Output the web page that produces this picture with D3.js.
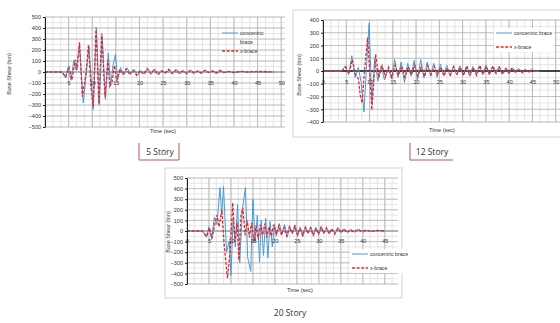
<!DOCTYPE html>
<html>
<head>
<meta charset="utf-8">
<script src="https://cdn.jsdelivr.net/npm/d3@7"></script>
<style>
  body { margin: 0; background: #fff; }
  svg { display: block; }
  text { font-family: "Liberation Sans", Arial, sans-serif; fill: #333; }
</style>
</head>
<body>
<svg id="chart" width="560" height="323"></svg>
<script>
// series names (legend)
const seriesNames = ['concentric brace', 'x-brace'];

// tick labels
const yTicks5 = [500, 400, 300, 200, 100, 0, -100, -200, -300, -400, -500];
const yTicks12 = [400, 300, 200, 100, 0, -100, -200, -300, -400];
const yTicks20 = [500, 400, 300, 200, 100, 0, -100, -200, -300, -400, -500];
const xTicks5 = [5, 10, 15, 20, 25, 30, 35, 40, 45, 50];
const xTicks12 = [0, 5, 10, 15, 20, 25, 30, 35, 40, 45, 50];
const xTicks20 = [0, 5, 10, 15, 20, 25, 30, 35, 40, 45];

// 5 story - time (sec) / base shear (ton)
const s5ConT = [0, 3.6, 4.3, 4.9, 5.5, 6.1, 6.6, 7.3, 8.1, 8.7, 9.3, 10.2, 10.9, 11.5, 12.1, 12.8, 13.4, 13.9, 14.4, 14.9,
  15.4, 16.0, 16.7, 17.4, 18.1, 18.9, 19.6, 20.3, 21.1, 21.8, 22.6, 23.3, 24.1, 24.8, 25.6, 26.3, 27.1, 27.9, 28.6, 29.4,
  30.1, 30.9, 31.7, 32.4, 33.2, 34.0, 34.8, 35.6, 36.4, 37.2, 38.0, 39.0, 40.0, 41.5, 43.0, 45.0, 48.0];
const s5ConV = [0, 0, -50, 45, -75, 105, 15, 255, -280, -30, 235, -340, 395, -300, 330, -250, 170, -120, 60, 160,
  -70, 40, -25, 35, -20, 25, -30, 15, -20, 30, -15, 25, -20, 15, -15, 25, -10, 20, -15, 10,
  -15, 15, -10, 10, -10, 15, -5, 10, -10, 10, -5, 5, -5, 5, 0, 0, 0];
const s5XbT = [0, 3.6, 4.4, 5.1, 5.7, 6.4, 6.8, 7.3, 7.9, 8.6, 9.2, 9.7, 10.2, 10.8, 11.4, 12.0, 12.7, 13.3, 13.7, 14.2,
  14.7, 15.2, 15.8, 16.5, 17.2, 17.9, 18.6, 19.4, 20.1, 20.9, 21.6, 22.4, 23.1, 23.9, 24.6, 25.4, 26.1, 26.9, 27.7, 28.4,
  29.2, 30.0, 30.7, 31.5, 32.3, 33.0, 33.8, 34.6, 35.4, 36.2, 37.0, 37.8, 38.8, 40.0, 41.5, 43.0, 45.0, 48.5];
const s5XbV = [0, 0, -45, 40, -70, 110, 20, 270, -225, -40, 245, -120, -315, 405, -290, 350, -230, 110, -130, -90,
  60, -80, 25, -20, 30, -25, 15, -30, 10, -20, 30, -15, 20, -25, 10, -10, 25, -15, 20, -10,
  10, -15, 15, -10, 10, -10, 15, -5, 10, -10, 15, -5, 5, -5, 5, 0, 5, 0];

// 12 story
const s12ConT = [0, 4.0, 4.8, 5.5, 6.2, 6.9, 7.6, 8.2, 8.8, 9.4, 9.9, 10.5, 11.1, 11.8, 12.5, 13.2, 14.0, 14.7, 15.4, 16.1,
  16.8, 17.5, 18.2, 18.9, 19.6, 20.3, 21.0, 21.7, 22.4, 23.1, 23.8, 24.5, 25.2, 25.9, 26.6, 27.3, 28.0, 28.7, 29.4, 30.1,
  30.8, 31.5, 32.2, 32.9, 33.6, 34.3, 35.0, 35.7, 36.4, 37.1, 37.8, 38.5, 39.2, 39.9, 40.6, 41.3, 42.0, 42.7, 43.4, 44.1,
  44.8, 45.5, 46.5];
const s12ConV = [0, 0, 40, -30, 120, -50, 30, -90, -320, 60, 375, -250, 95, -80, 40, -70, 20, -60, 90, -50,
  70, -90, 60, -40, 85, -70, 90, -55, 70, -40, 60, -50, 55, -30, 45, -40, 35, -30, 40, -35,
  30, -40, 35, -25, 40, -30, 45, -25, 30, -20, 35, -25, 20, -20, 25, -15, 20, -15, 15, -10,
  15, -5, 0];
const s12XbT = [0, 4.0, 5.0, 5.6, 6.3, 7.0, 7.6, 8.0, 8.4, 9.0, 9.6, 10.5, 11.3, 12.0, 12.7, 13.4, 14.1, 14.8, 15.5, 16.2,
  16.9, 17.6, 18.3, 19.0, 19.7, 20.4, 21.1, 21.8, 22.5, 23.2, 23.9, 24.6, 25.3, 26.0, 26.7, 27.4, 28.1, 28.8, 29.5, 30.2,
  30.9, 31.6, 32.3, 33.0, 33.7, 34.4, 35.1, 35.8, 36.5, 37.2, 37.9, 38.6, 39.3, 40.0, 40.7, 41.4, 42.1, 42.8, 43.5, 44.2,
  45.0, 46.0];
const s12XbV = [0, 0, 30, -20, 90, -30, -60, -190, -250, 40, 265, -305, 130, -50, 40, -45, 30, -50, 45, -35,
  40, -50, 35, -30, 45, -40, 30, -45, 40, -30, 35, -25, 30, -40, 25, -30, 35, -25, 30, -35,
  40, -30, 25, -35, 45, -25, 35, -30, 40, -20, 30, -25, 20, -15, 25, -10, 15, -15, 10, -10,
  5, 0];

// 20 story
const s20ConT = [0, 3.5, 4.4, 5.0, 5.6, 6.2, 6.8, 7.5, 7.9, 8.3, 9.0, 9.6, 10.0, 10.5, 11.0, 11.5, 12.0, 12.6, 13.3, 13.8,
  14.5, 15.0, 15.5, 16.0, 16.5, 16.9, 17.4, 17.9, 18.4, 18.9, 19.4, 19.9, 20.4, 21.0, 21.6, 22.2, 22.8, 23.4, 24.0, 24.6,
  25.2, 25.8, 26.4, 27.0, 27.6, 28.2, 28.8, 29.4, 30.0, 30.6, 31.2, 31.8, 32.4, 33.0, 33.7, 34.4, 35.1, 35.8, 36.5, 37.3,
  38.1, 39.0, 40.0, 41.0, 42.0, 43.5, 45.0];
const s20ConV = [0, 0, -60, 40, -80, 130, 60, 410, 150, 420, -200, -100, -420, 120, -150, 250, -300, 200, 410, -250,
  -380, 300, -100, 150, -290, 100, -230, 120, -250, 90, -150, 60, -40, 70, -30, 60, -50, 40, -30, 55,
  -45, 30, -50, 40, -20, 35, -40, 30, -25, 40, -20, 25, -30, 20, -25, 30, -15, 20, -15, 15,
  -10, 15, -10, 5, -5, 5, 0];
const s20XbT = [0, 3.5, 4.5, 5.1, 5.7, 6.3, 6.8, 7.3, 7.9, 8.4, 9.2, 9.8, 10.4, 10.9, 11.4, 11.8, 12.3, 12.7, 13.2, 13.7,
  14.2, 14.7, 15.2, 15.7, 16.2, 16.7, 17.2, 17.7, 18.2, 18.7, 19.2, 19.7, 20.3, 20.9, 21.5, 22.1, 22.7, 23.3, 23.9, 24.5,
  25.1, 25.7, 26.3, 26.9, 27.5, 28.1, 28.7, 29.3, 29.9, 30.5, 31.1, 31.7, 32.3, 32.9, 33.6, 34.3, 35.0, 35.7, 36.4, 37.2,
  38.0, 38.9, 39.8, 40.8, 41.8, 43.0, 45.0];
const s20XbV = [0, 0, -50, 30, -70, 60, 150, 40, 200, -100, -445, -200, 265, -100, 80, -275, 150, 220, -40, 100,
  -60, 80, -100, 50, -80, 60, -40, 70, -60, 40, -50, 60, -30, 50, -40, 30, -50, 40, -20, 45,
  -35, 25, -40, 35, -25, 30, -40, 25, -30, 35, -20, 30, -25, 20, -30, 25, -15, 20, -15, 10,
  -10, 15, -5, 10, -5, 5, 0];

const colors = ['#4a9bd6', '#e3262e'];

const svg = d3.select('#chart');

const panels = [
  { id: 'p5', caption: '5 Story', T: [s5ConT, s5XbT], V: [s5ConV, s5XbV],
    yTicks: yTicks5, xTicks: xTicks5, xMax: 50.8, yMin: -500, yMax: 500,
    left: 45, right: 285, top: 17, bottom: 127, xPad: 9, frame: null,
    yTitleX: 11, yTitleY: 74, xTitleX: 163, xTitleY: 133,
    legend: { x: 222, y: 33, row: 9, wrap: true, bg: false },
    cap: { x: 160, y: 155, box: [139, 143, 179, 160], right: true } },
  { id: 'p12', caption: '12 Story', T: [s12ConT, s12XbT], V: [s12ConV, s12XbV],
    yTicks: yTicks12, xTicks: xTicks12, xMax: 52, yMin: -400, yMax: 400,
    left: 323, right: 565, top: 20, bottom: 122, xPad: 9, frame: [293, 10, 600, 137],
    yTitleX: 301, yTitleY: 75, xTitleX: 442, xTitleY: 132,
    legend: { x: 496, y: 33, row: 14, wrap: false, bg: true },
    cap: { x: 432, y: 155, box: [410, 143, 453, 160], right: false } },
  { id: 'p20', caption: '20 Story', T: [s20ConT, s20XbT], V: [s20ConV, s20XbV],
    yTicks: yTicks20, xTicks: xTicks20, xMax: 48, yMin: -500, yMax: 500,
    left: 187, right: 398, top: 178, bottom: 284, xPad: 8, frame: [165, 168, 402, 298],
    yTitleX: 170, yTitleY: 232, xTitleX: 300, xTitleY: 292,
    legend: { x: 352, y: 254, row: 14, wrap: false, bg: true },
    cap: { x: 290, y: 316, box: null, right: false } }
];

function drawPanel(p) {
  const g = svg.append('g').attr('class', p.id);
  const x = d3.scaleLinear().domain([0, p.xMax]).range([p.left, p.right]);
  const y = d3.scaleLinear().domain([p.yMin, p.yMax]).range([p.bottom, p.top]);

  if (p.frame) {
    g.append('rect')
      .attr('x', p.frame[0]).attr('y', p.frame[1])
      .attr('width', p.frame[2] - p.frame[0]).attr('height', p.frame[3] - p.frame[1])
      .attr('fill', 'none').attr('stroke', '#d4d4d4');
  }

  // gridlines
  const grid = g.append('g');
  grid.selectAll('.vmin').data(d3.range(0, p.xMax, 5 / 3)).enter().append('line')
    .attr('x1', d => x(d)).attr('x2', d => x(d))
    .attr('y1', p.top).attr('y2', p.bottom)
    .attr('stroke', '#dedede').attr('stroke-width', 0.8);
  grid.selectAll('.hmin').data(d3.range(p.yMin, p.yMax + 1, 50)).enter().append('line')
    .attr('x1', p.left).attr('x2', p.right)
    .attr('y1', d => y(d)).attr('y2', d => y(d))
    .attr('stroke', '#e0e0e0').attr('stroke-width', 0.8);
  grid.selectAll('.vmaj').data(d3.range(0, p.xMax, 5)).enter().append('line')
    .attr('x1', d => x(d)).attr('x2', d => x(d))
    .attr('y1', p.top).attr('y2', p.bottom)
    .attr('stroke', '#b0b0b0').attr('stroke-width', 0.8);
  grid.selectAll('.hmaj').data(p.yTicks).enter().append('line')
    .attr('x1', p.left).attr('x2', p.right)
    .attr('y1', d => y(d)).attr('y2', d => y(d))
    .attr('stroke', '#b8b8b8').attr('stroke-width', 0.8);

  // zero line
  g.append('line')
    .attr('x1', p.left).attr('x2', p.right)
    .attr('y1', y(0)).attr('y2', y(0))
    .attr('stroke', p.id === 'p12' ? '#111' : '#777')
    .attr('stroke-width', p.id === 'p12' ? 1.6 : 0.8);

  // series
  const clipId = 'clip-' + p.id;
  svg.append('clipPath').attr('id', clipId).append('rect')
    .attr('x', p.left).attr('y', p.top - 2)
    .attr('width', p.right - p.left).attr('height', p.bottom - p.top + 4);
  const line = d3.line().x(d => x(d[0])).y(d => y(d[1]));
  [0, 1].forEach(i => {
    g.append('path')
      .datum(d3.zip(p.T[i], p.V[i]))
      .attr('clip-path', `url(#${clipId})`)
      .attr('d', line)
      .attr('fill', 'none')
      .attr('stroke', colors[i])
      .attr('stroke-width', i === 0 ? 1 : 1.3)
      .attr('stroke-dasharray', i === 0 ? null : '3,1.6');
  });

  // y axis
  const ya = g.append('g')
    .attr('transform', `translate(${p.left},0)`)
    .call(d3.axisLeft(y).tickValues(p.yTicks).tickSize(2).tickSizeOuter(0).tickPadding(2));
  ya.select('.domain').attr('stroke', '#222');
  ya.selectAll('.tick line').attr('stroke', '#222');
  ya.selectAll('text').style('font-size', '5.5px').attr('fill', '#333');

  // x labels
  const xa = g.append('g')
    .attr('transform', `translate(0,${y(0)})`)
    .call(d3.axisBottom(x).tickValues(p.xTicks).tickSize(0).tickPadding(p.xPad));
  xa.select('.domain').remove();
  xa.selectAll('text').style('font-size', '5.5px').attr('fill', '#333');

  // titles
  g.append('text')
    .attr('transform', `translate(${p.yTitleX},${p.yTitleY}) rotate(-90)`)
    .attr('text-anchor', 'middle')
    .style('font-size', '5.5px')
    .text('Base Shear (ton)');
  g.append('text')
    .attr('x', p.xTitleX).attr('y', p.xTitleY)
    .attr('text-anchor', 'middle')
    .style('font-size', '5.5px')
    .text('Time (sec)');

  // legend
  const L = p.legend;
  const lg = g.append('g');
  if (L.bg) {
    lg.append('rect').attr('x', L.x - 2).attr('y', L.y - 5)
      .attr('width', 60).attr('height', L.row + 10).attr('fill', '#fff');
  }
  const rows = L.wrap
    ? [{ s: 0, t: 'concentric' }, { s: -1, t: 'brace' }, { s: 1, t: seriesNames[1] }]
    : [{ s: 0, t: seriesNames[0] }, { s: 1, t: seriesNames[1] }];
  rows.forEach((r, k) => {
    const ry = L.y + k * L.row;
    if (r.s >= 0) {
      lg.append('line')
        .attr('x1', L.x).attr('x2', L.x + 16)
        .attr('y1', ry).attr('y2', ry)
        .attr('stroke', colors[r.s])
        .attr('stroke-width', r.s === 0 ? 1 : 1.3)
        .attr('stroke-dasharray', r.s === 0 ? null : '3,1.6');
    }
    lg.append('text')
      .attr('x', L.x + 18).attr('y', ry + 2)
      .style('font-size', '5.2px')
      .text(r.t);
  });

  // caption
  const c = p.cap;
  if (c.box) {
    const b = c.box;
    const d = c.right
      ? `M${b[0]},${b[1]}V${b[3]}H${b[2]}V${b[1]}`
      : `M${b[0]},${b[1]}V${b[3]}H${b[2]}`;
    svg.append('path').attr('d', d)
      .attr('fill', 'none').attr('stroke', '#c0504d').attr('stroke-width', 1);
  }
  svg.append('text')
    .attr('x', c.x).attr('y', c.y)
    .attr('text-anchor', 'middle')
    .style('font-size', '8.5px')
    .style('font-family', '"Open Sans", sans-serif')
    .attr('fill', '#222')
    .text(p.caption);
}

panels.forEach(drawPanel);
</script>
</body>
</html>
